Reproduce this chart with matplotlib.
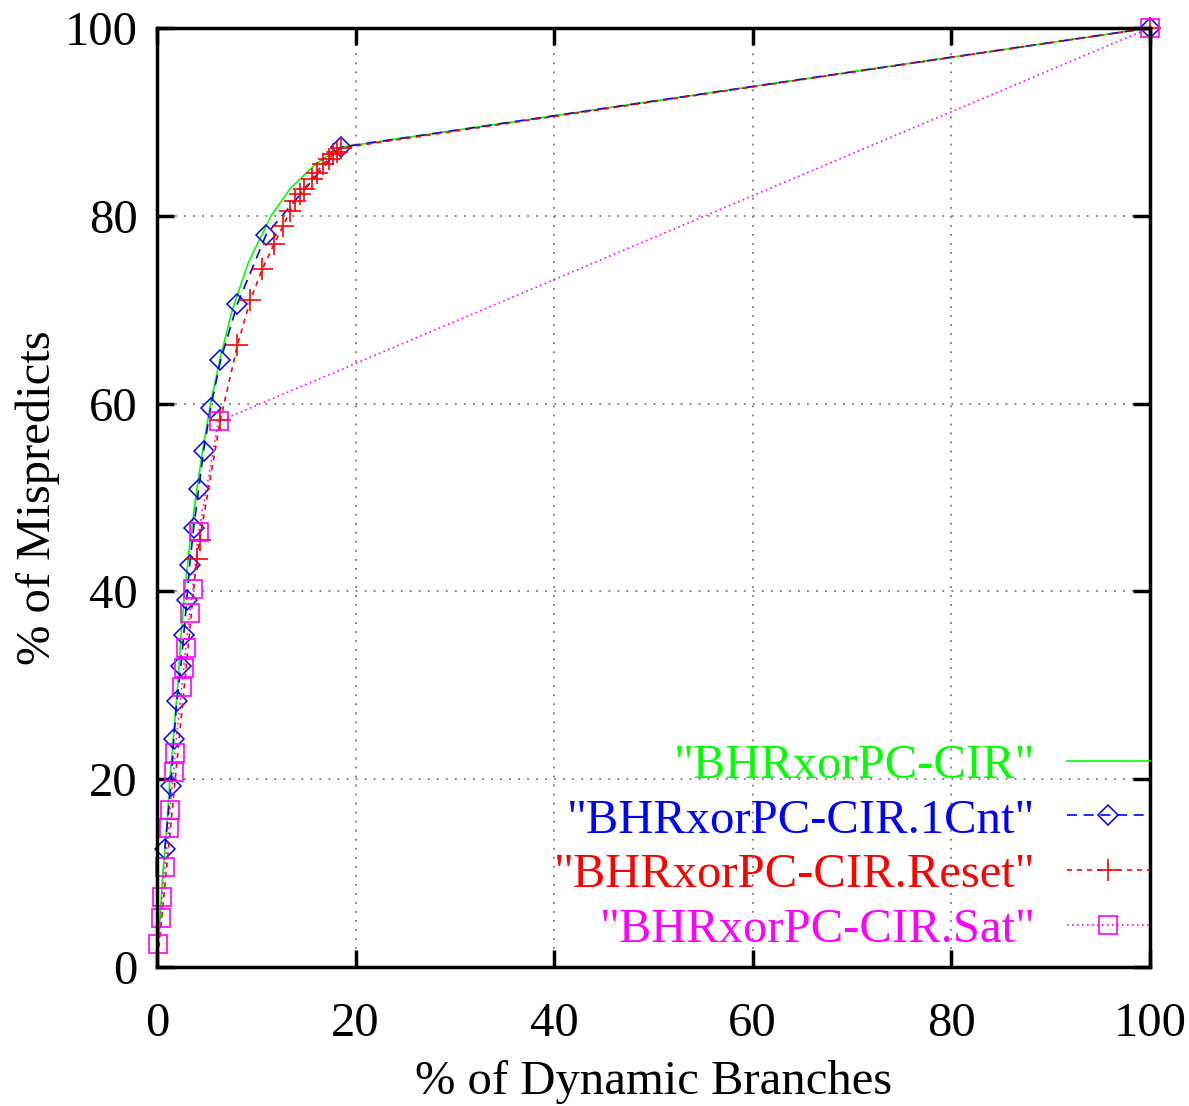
import matplotlib
matplotlib.use("Agg")
import matplotlib.pyplot as plt

# ---- data ----
green_x = [0.0, 0.3, 0.6, 1.0, 1.3, 1.7, 2.1, 2.4, 2.8, 3.3, 3.9, 4.6, 5.4, 6.4, 7.6, 9.2, 11.5, 13.5, 16.0, 18.5, 100.0]
green_y = [0.0, 5.0, 10.0, 15.0, 20.0, 25.0, 30.0, 35.0, 40.0, 45.0, 50.0, 55.0, 60.0, 65.0, 70.0, 75.0, 80.0, 83.0, 85.5, 87.3, 100.0]

blue_x = [0.8, 1.4, 1.7, 2.0, 2.4, 2.7, 3.0, 3.3, 3.7, 4.2, 4.7, 5.4, 6.4, 8.1, 11.0, 18.5, 100.0]
blue_y = [12.6, 19.3, 24.3, 28.3, 32.0, 35.4, 39.1, 42.8, 46.8, 50.9, 55.0, 59.5, 64.6, 70.6, 78.0, 87.3, 100.0]

red_x = [0.0, 4.0, 4.3, 6.4, 8.1, 9.4, 10.6, 11.8, 12.7, 13.4, 13.9, 14.4, 14.8, 15.6, 16.1, 16.7, 17.3, 17.7, 18.1, 18.5, 100.0]
red_y = [0.0, 43.4, 45.5, 58.3, 66.2, 71.0, 74.3, 77.0, 78.9, 80.5, 81.6, 82.3, 82.8, 83.9, 84.6, 85.5, 86.0, 86.6, 86.8, 87.2, 100.0]

mag_x = [0.1, 0.4, 0.5, 0.8, 1.2, 1.3, 1.7, 1.8, 2.5, 2.7, 2.9, 3.3, 3.6, 4.2, 6.2, 100.0]
mag_y = [2.5, 5.2, 7.5, 10.7, 14.8, 16.7, 20.8, 22.8, 29.8, 31.8, 34.0, 37.7, 40.3, 46.3, 58.1, 100.0]

labels = ['"BHRxorPC-CIR"', '"BHRxorPC-CIR.1Cnt"', '"BHRxorPC-CIR.Reset"', '"BHRxorPC-CIR.Sat"']
xticks = [0, 20, 40, 60, 80, 100]
yticks = [0, 20, 40, 60, 80, 100]

plt.rcParams['font.family'] = ['Liberation Serif', 'DejaVu Serif']
FS = 35

fig = plt.figure(figsize=(11.89, 11.06), dpi=100)
ax = fig.add_axes([0.132, 0.1257, 0.835, 0.849])

ax.plot(green_x, green_y, color='#00ff00', lw=1.2, label=labels[0], clip_on=False)
ax.plot(blue_x, blue_y, color='#0000ff', lw=1.2, ls=(0, (6, 4)), marker='D', ms=10,
        mfc='none', mec='#0000ff', mew=1.1, label=labels[1], clip_on=False)
ax.plot(red_x, red_y, color='#ff0000', lw=1.2, ls=(0, (3, 3)), marker='+', ms=16,
        mew=1.2, markevery=slice(1, None), label=labels[2], clip_on=False)
ax.plot(mag_x, mag_y, color='#ff00ff', lw=1.2, ls=(0, (1, 2)), marker='s', ms=12.5,
        mfc='none', mec='#ff00ff', mew=1.2, label=labels[3], clip_on=False)

ax.set_xlim(0, 100)
ax.set_ylim(0, 100)
ax.set_xticks(xticks)
ax.set_yticks(yticks)
ax.grid(True, color='#777777', ls=(0, (1, 4)), lw=1.3)
ax.tick_params(direction='in', length=12, width=2.5, labelsize=FS, top=True, right=True)
ax.tick_params(axis='x', pad=25)
ax.tick_params(axis='y', pad=14)
for s in ax.spines.values():
    s.set_linewidth(2.5)

ax.set_xlabel('% of Dynamic Branches', fontsize=FS, labelpad=10)
ax.set_ylabel('% of Mispredicts', fontsize=FS, labelpad=3)

leg = ax.legend(loc='lower right', bbox_to_anchor=(1.0, 0.016), frameon=False, fontsize=FS,
                markerfirst=False, handlelength=1.7, handletextpad=0.65, labelspacing=0.22,
                borderaxespad=0.0, borderpad=0.0)
for t, c in zip(leg.get_texts(), ['#00ff00', '#0000ff', '#ff0000', '#ff00ff']):
    t.set_color(c)
    t.set_ha('right')

fig.savefig('out.png', dpi=100)
